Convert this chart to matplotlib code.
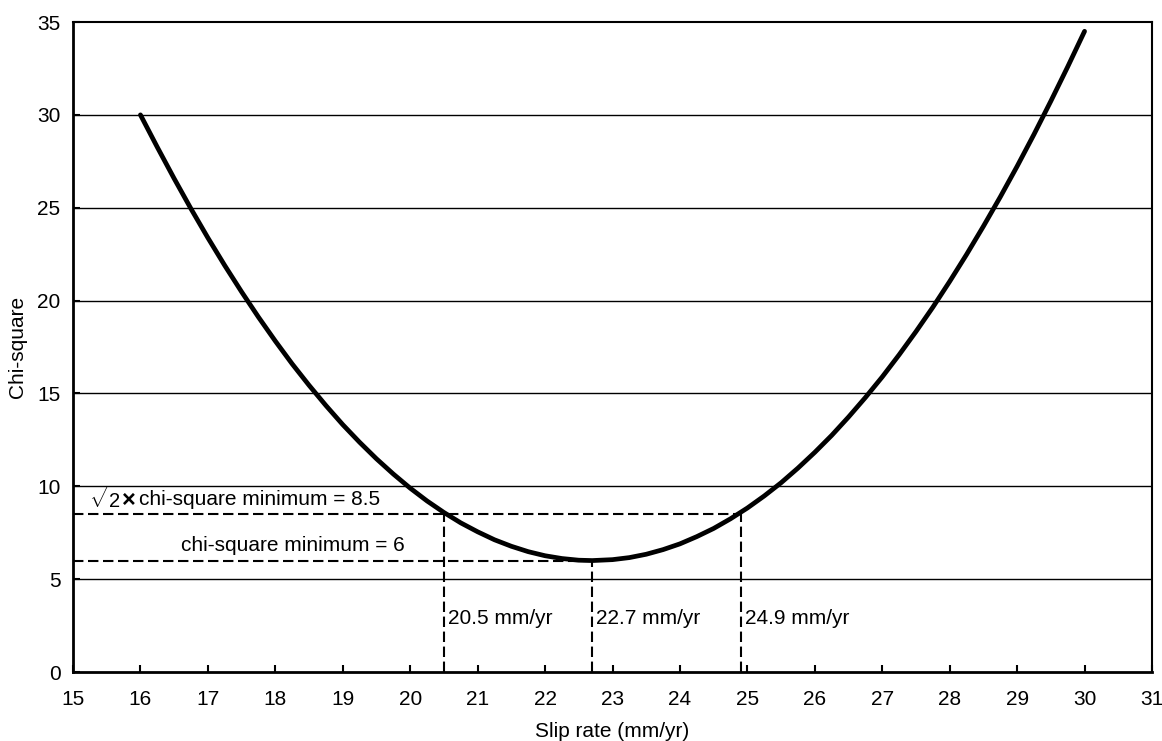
import matplotlib
matplotlib.use("Agg")
import matplotlib.pyplot as plt

plt.rcParams['font.family'] = ['Liberation Sans', 'DejaVu Sans']
plt.rcParams['mathtext.fontset'] = 'custom'
plt.rcParams['mathtext.rm'] = 'Liberation Sans'

slip_rate = [16.0, 16.25, 16.5, 16.75, 17.0, 17.25, 17.5, 17.75, 18.0, 18.25, 18.5, 18.75,
             19.0, 19.25, 19.5, 19.75, 20.0, 20.25, 20.5, 20.75, 21.0, 21.25, 21.5, 21.75,
             22.0, 22.25, 22.5, 22.7, 23.0, 23.25, 23.5, 23.75, 24.0, 24.25, 24.5, 24.75,
             25.0, 25.25, 25.5, 25.75, 26.0, 26.25, 26.5, 26.75, 27.0, 27.25, 27.5, 27.75,
             28.0, 28.25, 28.5, 28.75, 29.0, 29.25, 29.5, 29.75, 30.0]
chi_square = [30.0, 28.26, 26.57, 24.94, 23.38, 21.89, 20.47, 19.11, 17.82, 16.59, 15.44, 14.35,
              13.32, 12.37, 11.48, 10.66, 9.90, 9.21, 8.59, 8.03, 7.55, 7.12, 6.77, 6.48,
              6.26, 6.11, 6.02, 6.0, 6.05, 6.16, 6.34, 6.59, 6.90, 7.29, 7.73, 8.25,
              8.83, 9.48, 10.19, 10.98, 11.83, 12.74, 13.73, 14.78, 15.89, 17.08, 18.33, 19.64,
              21.03, 22.48, 24.0, 25.58, 27.23, 28.95, 30.74, 32.59, 34.5]

chi_min = 6
chi_thresh = 8.5
x_low, x_best, x_high = 20.5, 22.7, 24.9
x_ticks = list(range(15, 32))
y_ticks = list(range(0, 36, 5))

fig = plt.figure(figsize=(11.62, 7.41), dpi=100)
ax = fig.add_axes([73/1162, 1 - 672/741, 1079/1162, 650/741])

for y in y_ticks[1:-1]:
    ax.axhline(y, color='black', lw=1.0, zorder=1)

ax.plot(slip_rate, chi_square, color='black', lw=3.4, solid_capstyle='round',
        solid_joinstyle='round', zorder=3)

dash = (0, (5, 2.2))
ax.plot([15, x_high], [chi_thresh, chi_thresh], color='black', lw=1.5, linestyle=dash, zorder=2)
ax.plot([15, x_best], [chi_min, chi_min], color='black', lw=1.5, linestyle=dash, zorder=2)
for xv, yv in [(x_low, chi_thresh), (x_best, chi_min), (x_high, chi_thresh)]:
    ax.plot([xv, xv], [0, yv], color='black', lw=1.5, linestyle=dash, zorder=2)
    ax.text(xv + 0.06, 2.9, f"{xv} mm/yr", fontsize=15, va='center', ha='left')

ax.text(15.24, 9.3, r"$\sqrt{2}$", fontsize=14.5, va='center', ha='left')
ax.text(15.73, 9.25, "\u00d7", fontsize=17, fontweight='bold', va='center', ha='left')
ax.text(15.98, 9.3, "chi-square minimum = 8.5", fontsize=15, va='center', ha='left')
ax.text(16.6, 6.8, "chi-square minimum = 6", fontsize=15, va='center', ha='left')

ax.set_xlim(15, 31)
ax.set_ylim(0, 35)
ax.set_xticks(x_ticks)
ax.set_yticks(y_ticks)
ax.tick_params(direction='in', length=5, width=1.5, labelsize=15)
ax.tick_params(axis='x', pad=13)
ax.tick_params(axis='y', pad=9)
for s in ax.spines.values():
    s.set_linewidth(2)
ax.spines['top'].set_linewidth(1.5)
ax.spines['right'].set_linewidth(1.5)
ax.set_xlabel("Slip rate (mm/yr)", fontsize=15, labelpad=9)
ax.set_ylabel("Chi-square", fontsize=15, labelpad=7)

fig.savefig("out.png", dpi=100)
